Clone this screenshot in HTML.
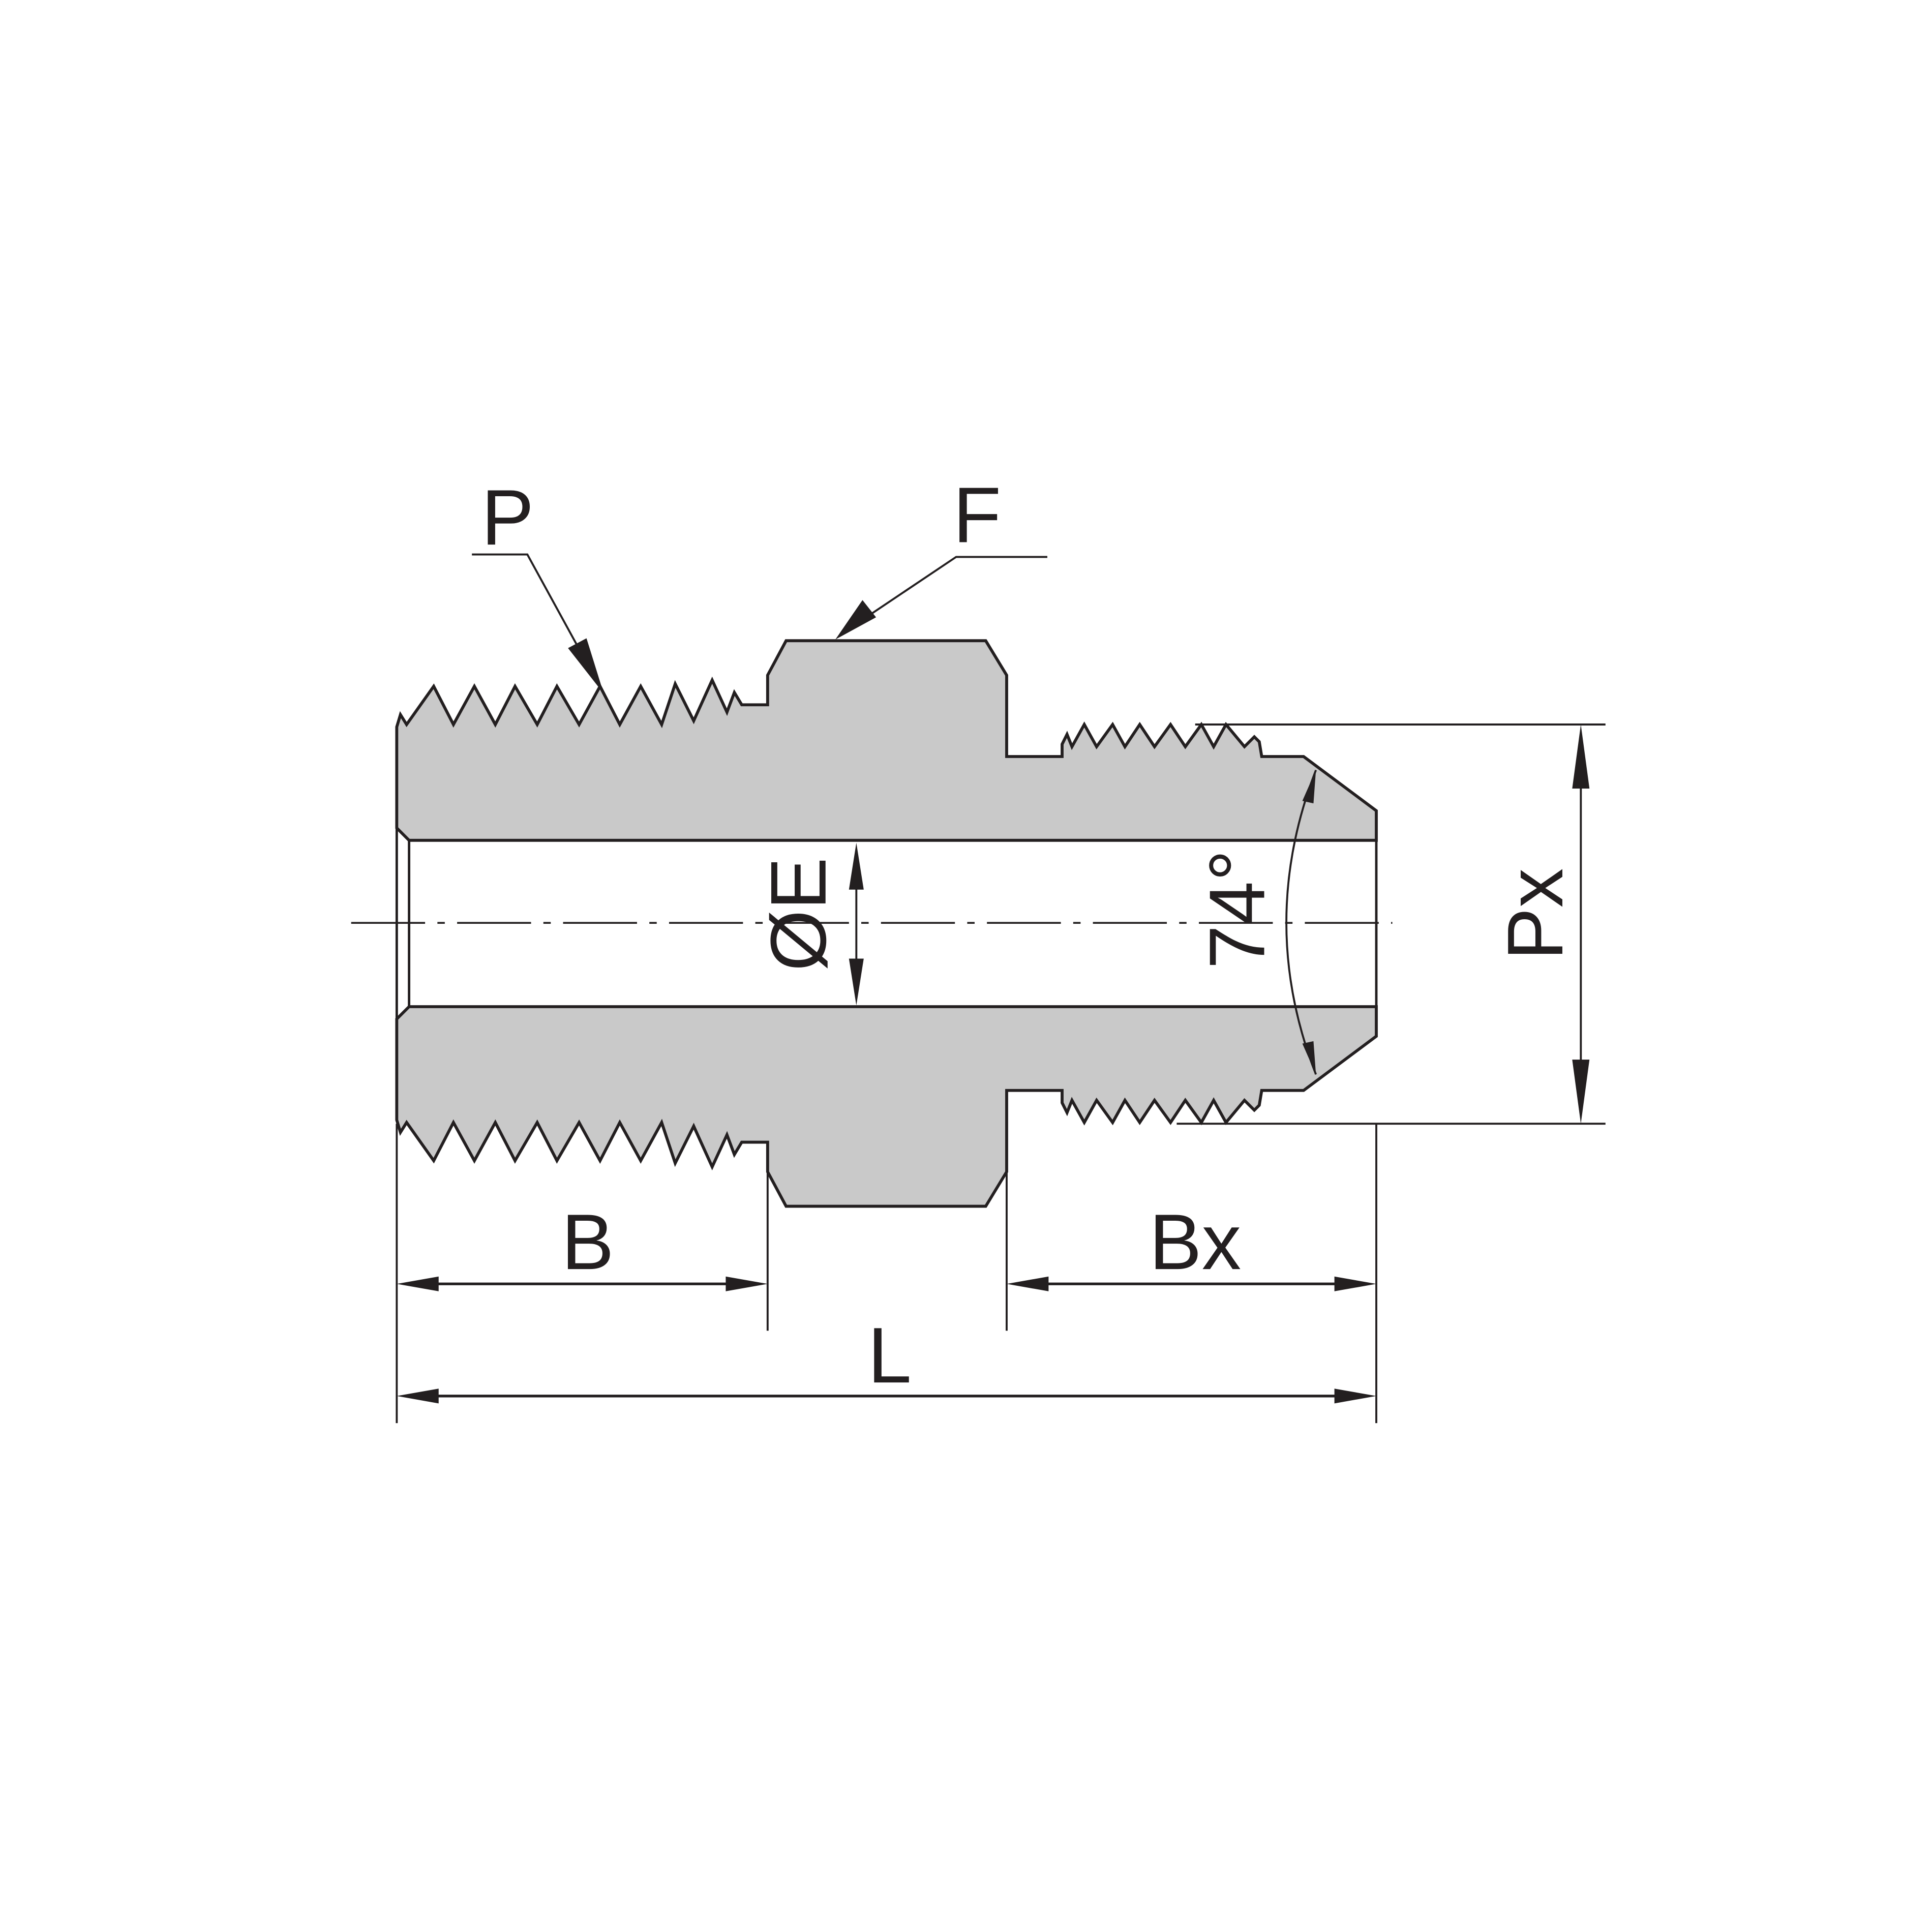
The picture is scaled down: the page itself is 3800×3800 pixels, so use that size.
<!DOCTYPE html>
<html><head><meta charset="utf-8"><style>html,body{margin:0;padding:0;background:#fff}svg{display:block}</style></head>
<body>
<svg width="3800" height="3800" viewBox="0 0 1568 1568" xmlns="http://www.w3.org/2000/svg" font-family="Liberation Sans, Arial, sans-serif" fill="#231f20">
<defs>
<g id="half">
<path d="M322,672 L322,590 L325,580 L330,588 L352,557 L368,588 L385,557 L402,588 L418,557 L436,588 L452,557 L470,588 L487,557 L503,588 L520,557 L537,588 L548,555 L563,585 L578,552 L590,578 L596,562 L602,572 L623,572 L623,548 L638,520 L800,520 L817,548 L817,614 L862,614 L862,604 L866,596 L870,606 L880,588 L890,606 L903,588 L913,606 L925,588 L937,606 L950,588 L962,606 L975,588 L985,606 L995,588 L1010,606 L1018,598 L1022,602 L1024,614 L1058,614 L1117,658 L1117,682 L332,682 Z" fill="#c9c9c9" stroke="#231f20" stroke-width="2.4" stroke-linejoin="miter"/>
</g>
</defs>
<use href="#half"/>
<use href="#half" transform="translate(0,1499) scale(1,-1)"/>
<line x1="322" y1="672" x2="322" y2="828" stroke="#231f20" stroke-width="2"/>
<line x1="332" y1="682" x2="332" y2="817" stroke="#231f20" stroke-width="2"/>
<line x1="1117" y1="682" x2="1117" y2="817" stroke="#231f20" stroke-width="2"/>
<line x1="285" y1="749" x2="1130" y2="749" stroke="#231f20" stroke-width="1.5" stroke-dasharray="60,10,6,10"/>
<g stroke="#231f20" stroke-width="1.6">
<line x1="322" y1="912" x2="322" y2="1155"/>
<line x1="623" y1="950" x2="623" y2="1080"/>
<line x1="817" y1="950" x2="817" y2="1080"/>
<line x1="1117" y1="912" x2="1117" y2="1155"/>
<line x1="970" y1="588" x2="1303" y2="588"/>
<line x1="955" y1="912" x2="1303" y2="912"/>
<line x1="1283" y1="600" x2="1283" y2="900"/>
<line x1="335" y1="1042" x2="610" y2="1042" stroke-width="2.2"/>
<line x1="830" y1="1042" x2="1105" y2="1042" stroke-width="2.2"/>
<line x1="335" y1="1133" x2="1105" y2="1133" stroke-width="2.2"/>
<line x1="695" y1="700" x2="695" y2="800"/>
<polyline points="383,450 428,450 480,545" fill="none"/>
<polyline points="850,452 776,452 700,503" fill="none"/>
<path d="M1068,625 Q1020,749 1068,872" fill="none"/>
</g>
<polygon points="1283,588 1276,640 1290,640"/>
<polygon points="1283,912 1276,860 1290,860"/>
<polygon points="322,1042 356,1036 356,1048"/>
<polygon points="623,1042 589,1036 589,1048"/>
<polygon points="817,1042 851,1036 851,1048"/>
<polygon points="1117,1042 1083,1036 1083,1048"/>
<polygon points="322,1133 356,1127 356,1139"/>
<polygon points="1117,1133 1083,1127 1083,1139"/>
<polygon points="695,684 689,722 701,722"/>
<polygon points="695,816 689,778 701,778"/>
<polygon points="490,563 461,526 476,518"/>
<polygon points="678,519 700,487 711,501"/>
<polygon points="1068,625 1057,650 1066,652"/>
<polygon points="1068,872 1057,847 1066,845"/>
<g font-size="64">
<text x="412" y="442" text-anchor="middle">P</text>
<text x="793" y="440" text-anchor="middle">F</text>
<text x="477" y="1030" text-anchor="middle">B</text>
<text x="970" y="1030" text-anchor="middle">Bx</text>
<text x="722" y="1122" text-anchor="middle">L</text>
<text transform="translate(1268,742) rotate(-90)" text-anchor="middle">Px</text>
<text transform="translate(670,742) rotate(-90)" text-anchor="middle">ØE</text>
<text transform="translate(1026,738) rotate(-90)" text-anchor="middle">74°</text>
</g>
</svg>
</body></html>
